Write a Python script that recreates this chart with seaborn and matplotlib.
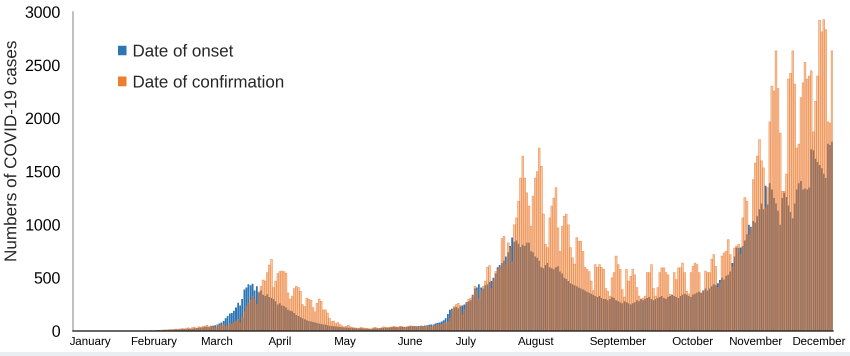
import io
import numpy as np
import pandas as pd
import matplotlib
matplotlib.use('Agg')
import matplotlib.pyplot as plt
import seaborn as sns
from matplotlib.patches import Patch, Rectangle
from matplotlib.colors import to_rgba

# ------------------------------------------------------------
# Daily COVID-19 cases, 2020
# ------------------------------------------------------------
onset_jan = [0, 0, 0, 0, 0, 0, 0, 0, 0, 0, 0, 0, 0, 0, 0, 0, 1, 0, 0, 1, 0, 1, 1, 0, 1, 2, 1, 2, 3, 2, 4]
confirm_jan = [0, 0, 0, 0, 0, 0, 0, 0, 0, 0, 0, 0, 0, 0, 0, 1, 0, 0, 0, 1, 0, 0, 1, 1, 0, 1, 2, 1, 1, 2, 3]

onset_feb = [3, 4, 3, 5, 6, 5, 7, 8, 6, 9, 10, 8, 11, 12, 10, 13, 14, 12, 15, 16, 14, 18, 20, 17, 22, 24, 21, 26, 28]
confirm_feb = [2, 3, 2, 4, 3, 5, 6, 4, 7, 8, 5, 9, 10, 7, 12, 14, 9, 16, 18, 12, 20, 24, 16, 28, 30, 22, 34, 38, 27]

onset_mar = [30, 34, 32, 38, 40, 36, 45, 50, 55, 62, 70, 80, 95, 120, 140, 165, 170, 190, 220, 265,
             240, 300, 390, 410, 440, 430, 445, 380, 420, 360, 380]
confirm_mar = [40, 35, 45, 48, 55, 42, 50, 38, 30, 52, 55, 50, 60, 45, 40, 70, 65, 80, 95, 110,
               75, 130, 180, 230, 260, 290, 330, 300, 250, 370, 420]

onset_apr = [340, 330, 345, 320, 310, 300, 280, 250, 260, 240, 235, 220, 200, 190, 185,
             170, 150, 140, 130, 120, 110, 100, 95, 90, 85, 80, 75, 70, 65, 60]
confirm_apr = [480, 470, 550, 620, 675, 410, 470, 540, 560, 565, 560, 545, 360, 300, 330,
               400, 420, 410, 375, 250, 230, 310, 300, 290, 220, 180, 260, 300, 280, 200]

onset_may = [60, 55, 50, 48, 45, 42, 40, 38, 35, 33, 32, 30, 30, 28, 26, 25, 24, 25, 23, 22,
             22, 20, 22, 24, 25, 24, 26, 28, 30, 30, 32]
confirm_may = [200, 170, 120, 90, 95, 70, 80, 60, 50, 40, 45, 55, 40, 35, 30, 28, 25, 35, 30, 28,
               25, 20, 22, 30, 35, 28, 25, 30, 40, 35, 30]

onset_jun = [32, 35, 38, 36, 35, 40, 42, 38, 40, 42, 45, 44, 46, 45, 48, 50, 48, 52, 55, 58,
             60, 62, 70, 75, 80, 90, 100, 120, 160, 200]
confirm_jun = [35, 40, 45, 40, 38, 45, 42, 30, 40, 45, 50, 48, 42, 38, 35, 50, 45, 40, 48, 42,
               40, 55, 50, 60, 58, 62, 70, 80, 85, 120]

onset_jul = [210, 220, 225, 215, 230, 240, 250, 270, 280, 290, 340, 400, 410, 440, 410, 400,
             430, 440, 460, 470, 500, 540, 600, 620, 640, 660, 700, 740, 800, 880, 840]
confirm_jul = [190, 230, 250, 260, 240, 150, 200, 260, 300, 310, 330, 420, 380, 300, 380, 420,
               470, 600, 615, 400, 480, 560, 580, 600, 870, 890, 620, 830, 780, 650, 1000]

onset_aug = [850, 820, 790, 810, 800, 830, 830, 750, 740, 700, 690, 660, 600, 590, 620, 640,
             600, 590, 580, 600, 610, 560, 540, 500, 490, 470, 450, 440, 430, 420, 410]
confirm_aug = [1065, 1220, 1440, 1645, 1440, 1300, 1175, 985, 1270, 1440, 1500, 1720, 1550, 1100, 815, 785,
               1065, 1175, 1250, 1350, 970, 750, 985, 1080, 1100, 1000, 785, 690, 630, 880, 845]

onset_sep = [400, 390, 380, 370, 360, 350, 340, 330, 320, 330, 310, 300, 300, 290, 300,
             320, 310, 290, 280, 270, 260, 280, 270, 260, 250, 260, 270, 290, 280, 300]
confirm_sep = [845, 750, 600, 580, 560, 470, 380, 625, 600, 625, 600, 580, 400, 375, 330,
               500, 550, 705, 625, 580, 390, 320, 580, 470, 515, 580, 530, 410, 330, 300]

onset_oct = [290, 300, 310, 320, 300, 290, 300, 310, 320, 330, 310, 300, 320, 330, 340, 330,
             320, 310, 330, 340, 350, 340, 330, 320, 340, 350, 360, 370, 360, 380, 400]
confirm_oct = [310, 330, 550, 550, 625, 400, 330, 410, 550, 595, 595, 550, 530, 345, 330, 550,
               485, 595, 595, 640, 550, 375, 350, 550, 610, 640, 625, 550, 360, 380, 565]

onset_nov = [380, 400, 420, 440, 430, 450, 480, 500, 485, 520, 530, 560, 640, 700, 785,
             780, 785, 800, 850, 910, 1000, 980, 1035, 1020, 1080, 1145, 1200, 1145, 1365, 1190]
confirm_nov = [550, 550, 675, 720, 610, 410, 450, 705, 735, 750, 860, 720, 600, 780, 800,
               815, 720, 1065, 1255, 1220, 900, 970, 1425, 1580, 1645, 1800, 1600, 1535, 1160, 1350]

onset_dec = [1390, 1330, 1250, 1200, 1130, 1000, 1250, 1300, 1260, 1180, 1120, 1060, 1200, 1330, 1390, 1410,
             1330, 1340, 1330, 1350, 1710, 1700, 1620, 1590, 1560, 1530, 1480, 1440, 1760, 1750, 1780]
confirm_dec = [1967, 2303, 2256, 2635, 2281, 1861, 1315, 1315, 1476, 2369, 2425, 2635, 2322, 1720, 1758, 2196,
               2335, 2528, 2369, 2397, 2447, 1874, 2160, 2397, 2923, 2814, 2930, 2836, 1967, 1957, 2635]

month_labels = ['January', 'February', 'March', 'April', 'May', 'June',
                'July', 'August', 'September', 'October', 'November', 'December']
series_labels = ['Date of onset', 'Date of confirmation']

onset = (onset_jan + onset_feb + onset_mar + onset_apr + onset_may + onset_jun +
         onset_jul + onset_aug + onset_sep + onset_oct + onset_nov + onset_dec)
confirm = (confirm_jan + confirm_feb + confirm_mar + confirm_apr + confirm_may + confirm_jun +
           confirm_jul + confirm_aug + confirm_sep + confirm_oct + confirm_nov + confirm_dec)
assert len(onset) == 366 and len(confirm) == 366

df = pd.DataFrame({'day': np.arange(len(onset)), 'onset': onset, 'confirm': confirm})

# ------------------------------------------------------------
# Style
# ------------------------------------------------------------
sns.set_style('white')
plt.rcParams['font.family'] = ['Liberation Sans', 'DejaVu Sans']

blue = '#2E75B6'
orange = '#ED7D31'

W, H = 850, 356
fig = plt.figure(figsize=(W / 100, H / 100), dpi=100)
ax = fig.add_axes([73 / W, 1 - 331 / H, (833 - 73) / W, (331 - 12) / H])

# onset bars behind, semi-transparent confirmation bars (stronger outline) in front
sns.barplot(data=df, x='day', y='onset', color=blue, width=0.85, errorbar=None,
            saturation=1, linewidth=0, ax=ax)
sns.barplot(data=df, x='day', y='confirm', color=orange, width=0.85, errorbar=None,
            saturation=1, linewidth=0.5, edgecolor=orange, ax=ax)
for bar in ax.containers[1]:
    bar.set_facecolor(to_rgba(orange, 0.42))
    bar.set_edgecolor(to_rgba(orange, 0.68))

# axes
ax.set_xlim(-0.5, len(onset) - 0.5)
ax.set_ylim(0, 3000)
ax.set_yticks(range(0, 3001, 500))
ax.tick_params(axis='y', length=0, pad=9, labelsize=11.5, labelcolor='#000000')

# month labels sit where the original put them (day index)
month_pos = [7.7, 38.5, 68.8, 99.2, 130.5, 161.8, 188.7, 222.4, 261.9, 298.0, 328.3, 358.7]
ax.set_xticks(month_pos)
ax.set_xticklabels(month_labels)
ax.tick_params(axis='x', length=0, pad=4, labelsize=8.3, labelcolor='#000000')

ax.set_xlabel('')
ax.set_ylabel('')
fig.text(12 / W, 1 - 151 / H, 'Numbers of COVID-19 cases', rotation=90,
         ha='center', va='center', fontsize=12.3)

for side in ['top', 'right']:
    ax.spines[side].set_visible(False)
ax.spines['left'].set_color('#a6a6a6')
ax.spines['left'].set_linewidth(1)
ax.spines['bottom'].set_color('#262626')
ax.spines['bottom'].set_linewidth(1)
ax.grid(False)

handles = [Patch(facecolor=blue, edgecolor='none'), Patch(facecolor=orange, edgecolor='none')]
ax.legend(handles, series_labels, loc='upper left',
          bbox_to_anchor=((118 - 73) / 760, 1 - (44 - 12) / 319),
          frameon=False, fontsize=12.2, handlelength=0.5, handleheight=0.5,
          handletextpad=0.35, labelspacing=0.88, borderpad=0, borderaxespad=0)

# thin light strip along the bottom edge
fig.patches.append(Rectangle((0, 0), 1, 4 / H, transform=fig.transFigure,
                             facecolor='#e9eef3', edgecolor='none', zorder=-1))

# render 4x larger and average down, so the thin daily bars don't alias into bands
buf = io.BytesIO()
fig.savefig(buf, dpi=400, format='png')
buf.seek(0)
big = plt.imread(buf)
h, w = big.shape[0] // 4, big.shape[1] // 4
small = big[:h * 4, :w * 4].reshape(h, 4, w, 4, -1).mean(axis=(1, 3))
plt.imsave('out.png', np.clip(small, 0, 1))
